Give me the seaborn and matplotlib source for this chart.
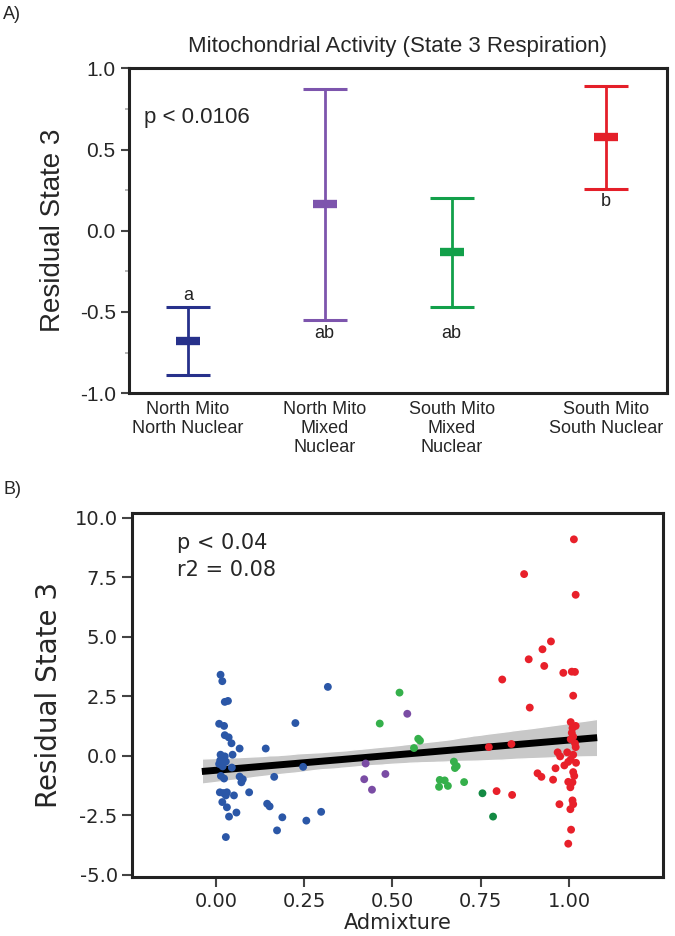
import numpy as np
import matplotlib
matplotlib.use("Agg")
import matplotlib.pyplot as plt
import pandas as pd
import seaborn as sns

# ---- panel A: group means with error bars ----
groups = ["North Mito\nNorth Nuclear", "North Mito\nMixed\nNuclear",
          "South Mito\nMixed\nNuclear", "South Mito\nSouth Nuclear"]
group_pos = [0.110, 0.364, 0.600, 0.887]
group_mean = [-0.68, 0.165, -0.13, 0.575]
group_low = [-0.89, -0.55, -0.47, 0.26]
group_high = [-0.47, 0.875, 0.20, 0.89]
group_letters = ["a", "ab", "ab", "b"]
letter_y = [-0.40, -0.63, -0.63, 0.18]
group_colors = ["#27318b", "#7d55ad", "#12a04a", "#e41f29"]

# ---- panel B: admixture vs residual state 3 ----
blue_x = [0.013, 0.018, 0.025, 0.034, 0.009, 0.023, 0.025, 0.036, 0.044, 0.067,
          0.141, 0.225, 0.317, 0.013, 0.025, 0.047, 0.016, 0.028, 0.009, 0.019,
          0.045, 0.020, 0.012, 0.247, 0.165, 0.014, 0.023, 0.067, 0.076, 0.072,
          0.011, 0.021, 0.031, 0.028, 0.051, 0.094, 0.018, 0.031, 0.058, 0.037,
          0.028, 0.145, 0.152, 0.188, 0.173, 0.256, 0.298]
blue_y = [3.40, 3.13, 2.26, 2.30, 1.34, 1.25, 0.86, 0.77, 0.52, 0.30,
          0.30, 1.37, 2.89, 0.04, -0.03, 0.04, -0.16, -0.25, -0.35, -0.45,
          -0.50, -0.30, -0.20, -0.47, -0.89, -0.85, -0.96, -0.88, -0.99, -1.12,
          -1.54, -1.57, -1.54, -1.67, -1.67, -1.54, -1.95, -2.17, -2.39, -2.56,
          -3.42, -2.02, -2.13, -2.59, -3.14, -2.73, -2.36]
purple_x = [0.424, 0.480, 0.420, 0.442, 0.542]
purple_y = [-0.33, -0.77, -0.99, -1.43, 1.76]
green_x = [0.520, 0.464, 0.573, 0.578, 0.561, 0.674, 0.682, 0.677,
           0.634, 0.648, 0.632, 0.657, 0.703]
green_y = [2.65, 1.35, 0.71, 0.63, 0.32, -0.25, -0.44, -0.52,
           -1.02, -1.04, -1.31, -1.27, -1.11]
dkgreen_x = [0.755, 0.785]
dkgreen_y = [-1.58, -2.56]
red_x = [1.014, 0.873, 1.019, 0.949, 0.925, 0.886, 0.930, 0.984, 1.008, 1.017,
         0.811, 1.012, 0.889, 1.005, 1.019, 1.010, 1.008, 1.012, 1.005, 1.017,
         1.019, 0.773, 0.837, 0.968, 0.975, 0.995, 1.012, 1.005, 1.020, 0.998,
         0.987, 0.962, 0.911, 0.922, 1.012, 1.015, 0.795, 0.839, 0.955, 0.998,
         1.010, 1.004, 0.973, 1.010, 1.012, 1.004, 1.006, 0.998]
red_y = [9.09, 7.63, 6.76, 4.80, 4.47, 4.05, 3.77, 3.48, 3.53, 3.52,
         3.20, 2.52, 2.02, 1.41, 1.25, 1.16, 0.96, 0.80, 0.69, 0.52,
         0.36, 0.36, 0.49, 0.14, -0.03, 0.14, 0.04, -0.16, -0.30, -0.26,
         -0.41, -0.53, -0.74, -0.89, -0.69, -0.85, -1.49, -1.65, -1.01, -1.10,
         -1.12, -1.33, -2.04, -1.88, -2.04, -2.25, -3.11, -3.70]

df = pd.concat([
    pd.DataFrame({"Admixture": blue_x, "Residual": blue_y, "grp": "blue"}),
    pd.DataFrame({"Admixture": purple_x, "Residual": purple_y, "grp": "purple"}),
    pd.DataFrame({"Admixture": green_x, "Residual": green_y, "grp": "green"}),
    pd.DataFrame({"Admixture": dkgreen_x, "Residual": dkgreen_y, "grp": "dkgreen"}),
    pd.DataFrame({"Admixture": red_x, "Residual": red_y, "grp": "red"}),
], ignore_index=True)
pt_colors = {"blue": "#2b57a7", "purple": "#7a4ca4", "green": "#35b04b",
             "dkgreen": "#138a43", "red": "#e8202a"}

sns.set_style("ticks")
plt.rcParams["font.family"] = ["Liberation Sans", "DejaVu Sans"]

fig = plt.figure(figsize=(6.75, 9.36), dpi=100)
axA = fig.add_axes([0.191, 0.580, 0.797, 0.347])
axB = fig.add_axes([0.196, 0.063, 0.786, 0.389])

# panel A
for i in range(4):
    axA.errorbar(group_pos[i], group_mean[i],
                 yerr=[[group_mean[i] - group_low[i]], [group_high[i] - group_mean[i]]],
                 fmt="none", ecolor=group_colors[i], elinewidth=2, capsize=16, capthick=2.2)
    axA.plot(group_pos[i], group_mean[i], marker="_", ms=17, mew=6, color=group_colors[i])
    axA.text(group_pos[i], letter_y[i], group_letters[i], ha="center", va="center",
             fontsize=13, color="#222222")
axA.set_xlim(0, 1)
axA.set_ylim(-1.0, 1.0)
axA.set_yticks([-1.0, -0.5, 0.0, 0.5, 1.0])
axA.set_yticks([-0.75, -0.25, 0.25, 0.75], minor=True)
axA.set_yticklabels(["-1.0", "-0.5", "0.0", "0.5", "1.0"], fontsize=15)
axA.tick_params(axis="y", which="major", length=6, width=1.5, color="#444444")
axA.tick_params(axis="y", which="minor", length=3, width=1.2, color="#aaaaaa")
axA.set_xticks(group_pos)
axA.set_xticklabels(groups, fontsize=13, linespacing=1.15)
axA.tick_params(axis="x", length=0, pad=6)
axA.set_ylabel("Residual State 3", fontsize=20, labelpad=10)
axA.set_title("Mitochondrial Activity (State 3 Respiration)", fontsize=16, pad=12)
axA.text(0.028, 0.70, "p < 0.0106", fontsize=16, va="center")
for s in axA.spines.values():
    s.set_linewidth(2.2)
    s.set_color("#222222")

# panel B
axB.set_xlim(-0.04, 1.08)
sns.regplot(data=df, x="Admixture", y="Residual", ax=axB, scatter=False, truncate=False,
            color="black", line_kws={"lw": 5, "solid_capstyle": "butt"}, n_boot=1000, seed=3)
axB.collections[0].set_facecolor("#c8c8c8")
axB.collections[0].set_alpha(1)
sns.scatterplot(data=df, x="Admixture", y="Residual", hue="grp", palette=pt_colors,
                ax=axB, s=32, edgecolor="none", legend=False, zorder=3)
axB.set_xlim(-0.237, 1.266)
axB.set_ylim(-5.1, 10.2)
axB.set_xticks([0, 0.25, 0.5, 0.75, 1.0])
axB.set_xticklabels(["0.00", "0.25", "0.50", "0.75", "1.00"], fontsize=14,
                    family="DejaVu Sans")
axB.set_yticks([-5, -2.5, 0, 2.5, 5, 7.5, 10])
axB.set_yticklabels(["-5.0", "-2.5", "0.0", "2.5", "5.0", "7.5", "10.0"], fontsize=14,
                    family="DejaVu Sans")
axB.tick_params(length=7, width=1.5, color="#444444")
axB.set_xlabel("Admixture", fontsize=15, family="DejaVu Sans", labelpad=2)
axB.set_ylabel("Residual State 3", fontsize=20, family="DejaVu Sans", labelpad=8)
axB.text(0.085, 0.918, "p < 0.04", transform=axB.transAxes, fontsize=15,
         family="DejaVu Sans", va="center")
axB.text(0.085, 0.843, "r2 = 0.08", transform=axB.transAxes, fontsize=15,
         family="DejaVu Sans", va="center")
for s in axB.spines.values():
    s.set_linewidth(2.2)
    s.set_color("#222222")

fig.text(0.005, 0.985, "A)", fontsize=13, va="center")
fig.text(0.005, 0.477, "B)", fontsize=13, va="center")

fig.savefig("out.png", dpi=100)
